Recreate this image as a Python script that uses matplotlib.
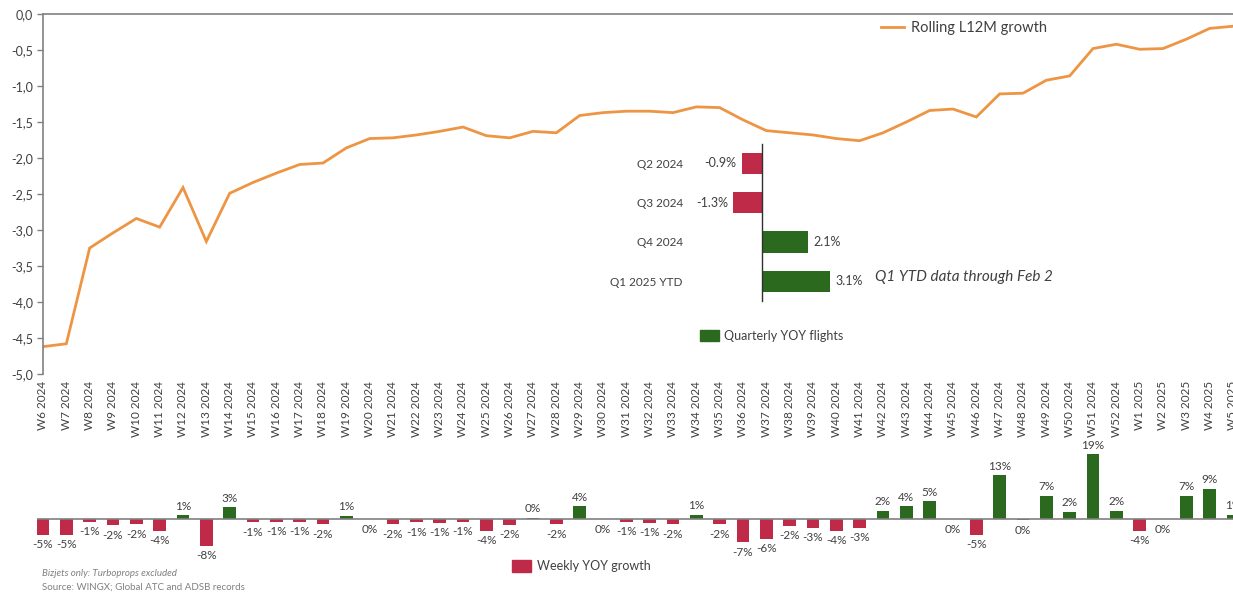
import numpy as np
import matplotlib
matplotlib.use("Agg")
import matplotlib.pyplot as plt
from matplotlib.ticker import FuncFormatter
from matplotlib.patches import Patch

plt.rcParams['font.family'] = ['Lato', 'DejaVu Sans']

# data
weeks = ["W%d 2024" % w for w in range(6, 53)] + ["W%d 2025" % w for w in range(1, 6)]

rolling = [-4.62, -4.58, -3.25, -3.04, -2.84, -2.96, -2.41, -3.16, -2.49, -2.34,
           -2.21, -2.09, -2.07, -1.86, -1.73, -1.72, -1.68, -1.63, -1.57, -1.69,
           -1.72, -1.63, -1.65, -1.41, -1.37, -1.35, -1.35, -1.37, -1.29, -1.30,
           -1.47, -1.62, -1.65, -1.68, -1.73, -1.76, -1.65, -1.50, -1.34, -1.32,
           -1.43, -1.11, -1.10, -0.92, -0.86, -0.48, -0.42, -0.49, -0.48, -0.35,
           -0.20, -0.17]

weekly = [-4.7, -4.6, -0.8, -1.9, -1.6, -3.6, 1.1, -7.9, 3.4, -1.0,
          -0.9, -0.8, -1.6, 0.9, -0.1, -1.6, -1.0, -1.1, -0.8, -3.6,
          -1.8, 0.4, -1.6, 3.7, -0.1, -0.8, -1.2, -1.6, 1.3, -1.6,
          -6.9, -5.8, -2.0, -2.6, -3.6, -2.7, 2.4, 3.8, 5.3, -0.1,
          -4.7, 12.8, -0.4, 6.9, 2.1, 19.0, 2.4, -3.6, -0.1, 6.8,
          8.9, 1.2]

quarters = ["Q2 2024", "Q3 2024", "Q4 2024", "Q1 2025 YTD"]
quarterly = [-0.9, -1.3, 2.1, 3.1]

RED = '#BE2A47'
GREEN = '#2B6A1E'
ORANGE = '#EE9543'
TXT = '#404040'
GRAY = '#808080'

W, H = 1233, 592
fig = plt.figure(figsize=(W / 100, H / 100), dpi=100)

def px(x0, y0, x1, y1):
    # pixel box (left, top, right, bottom) -> figure fraction rect
    return [x0 / W, 1 - y1 / H, (x1 - x0) / W, (y1 - y0) / H]

x = np.arange(len(weeks))

# top: rolling line
ax = fig.add_axes(px(43, 14, 1233, 374))
line, = ax.plot(x, rolling, color=ORANGE, lw=2.0, solid_joinstyle='miter')
ax.set_xlim(0, len(weeks) - 1)
ax.set_ylim(-5, 0)
ax.set_yticks(np.arange(-5, 0.01, 0.5))
ax.yaxis.set_major_formatter(FuncFormatter(lambda v, p: ("%.1f" % v).replace('.', ',').replace('-0,0', '0,0')))
ax.set_xticks(x)
ax.set_xticklabels(weeks, rotation=90, va='top', ha='center')
ax.tick_params(axis='x', length=0, pad=5, labelsize=8.5, labelcolor=TXT)
ax.tick_params(axis='y', length=4, width=1, color=GRAY, labelsize=9, labelcolor=TXT, pad=3)
for s in ['right', 'bottom']:
    ax.spines[s].set_visible(False)
for s in ['left', 'top']:
    ax.spines[s].set_color(GRAY)
    ax.spines[s].set_linewidth(1.2)
ax.legend(handles=[line], labels=['Rolling L12M growth'], loc='center left',
          bbox_to_anchor=(881 / W, 1 - 28 / H), bbox_transform=fig.transFigure,
          frameon=False, borderpad=0, borderaxespad=0, handlelength=1.55,
          handletextpad=0.5, fontsize=10.5, labelcolor=TXT)

# inset: quarterly bars
sc = 22.0
xlo, xhi = -1.4, 3.3
axq = fig.add_axes(px(762 + xlo * sc, 143.5, 762 + xhi * sc, 301))
yq = np.arange(len(quarters))
qcol = [RED if v < 0 else GREEN for v in quarterly]
axq.barh(yq, quarterly, height=0.54, color=qcol)
axq.set_xlim(xlo, xhi)
axq.set_ylim(len(quarters) - 0.5, -0.5)
axq.patch.set_alpha(0)
for s in ['right', 'top', 'bottom']:
    axq.spines[s].set_visible(False)
axq.spines['left'].set_position(('data', 0))
axq.spines['left'].set_color('#303030')
axq.spines['left'].set_linewidth(1.0)
axq.set_xticks([])
axq.set_yticks(yq)
axq.set_yticklabels(quarters)
axq.tick_params(axis='y', length=0, pad=57, labelsize=8.5, labelcolor=TXT)
for yy, v in zip(yq, quarterly):
    axq.annotate("%.1f%%" % v, (v, yy), xytext=(4 if v > 0 else -4, 0),
                 textcoords='offset points', ha='left' if v > 0 else 'right',
                 va='center', fontsize=9, color=TXT)
fig.text(875 / W, 1 - 277 / H, "Q1 YTD data through Feb 2", fontsize=11,
         style='italic', color=TXT, va='center', ha='left')
fig.legend(handles=[Patch(color=GREEN)], labels=['Quarterly YOY flights'],
           loc='center left', bbox_to_anchor=(700 / W, 1 - 336 / H),
           frameon=False, borderpad=0, borderaxespad=0, handlelength=1.5,
           handleheight=1.0, handletextpad=0.45, fontsize=9, labelcolor=TXT)

# bottom: weekly bars
pps = 3.4
axb = fig.add_axes(px(43, 440, 1233, 560))
axb.set_xlim(0, len(weeks) - 1)
axb.set_ylim(-(560 - 519) / pps, (519 - 440) / pps)
wcol = [RED if v < 0 else GREEN for v in weekly]
axb.bar(x, weekly, width=0.55, color=wcol, clip_on=False, zorder=2)
axb.hlines(0, -0.27, len(weeks), color=GRAY, lw=1.2, clip_on=False, zorder=3)
axb.axis('off')
for xi, v in zip(x, weekly):
    lab = "%d%%" % int(round(v))
    if v >= 0:
        axb.annotate(lab, (xi, v), xytext=(0, 2.5), textcoords='offset points',
                     ha='center', va='bottom', fontsize=8.5, color=TXT, annotation_clip=False)
    else:
        axb.annotate(lab, (xi, v), xytext=(0, -3), textcoords='offset points',
                     ha='center', va='top', fontsize=8.5, color=TXT, annotation_clip=False)
fig.legend(handles=[Patch(color=RED)], labels=['Weekly YOY growth'],
           loc='center left', bbox_to_anchor=(512 / W, 1 - 566 / H),
           frameon=False, borderpad=0, borderaxespad=0, handlelength=1.5,
           handleheight=1.1, handletextpad=0.5, fontsize=9, labelcolor=TXT)

fig.text(42 / W, 1 - 573 / H, "Bizjets only: Turboprops excluded", fontsize=7,
         style='italic', color=GRAY, va='center', ha='left')
fig.text(42 / W, 1 - 587 / H, "Source: WINGX; Global ATC and ADSB records", fontsize=7,
         color=GRAY, va='center', ha='left')

fig.savefig("out.png", dpi=100)
